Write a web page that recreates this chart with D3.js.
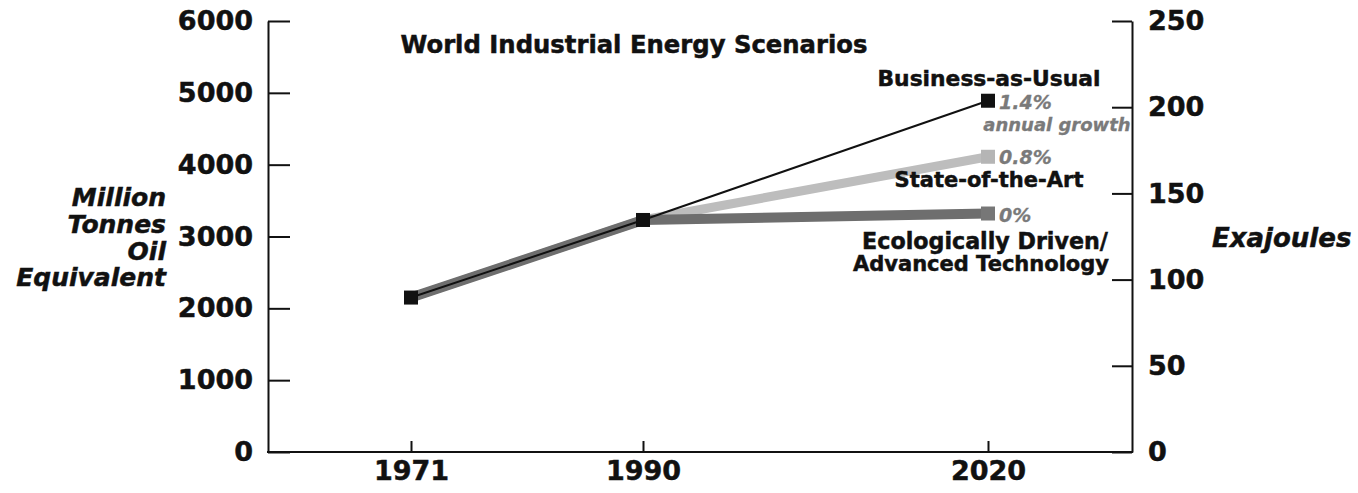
<!DOCTYPE html>
<html>
<head>
<meta charset="utf-8">
<script src="https://cdn.jsdelivr.net/npm/d3@7"></script>
<style>
  body { margin: 0; background: #fff; }
  svg text { font-family: "DejaVu Sans", sans-serif; font-weight: bold; fill: #111; stroke: #111; stroke-width: 0.5; }
  .axis path, .axis line { stroke: #111; stroke-width: 2; }
  .axis text { font-size: 27px; }
  .note { font-style: italic; fill: #7a7a7a; stroke: #7a7a7a; stroke-width: 0.3; }
</style>
</head>
<body>
<div id="chart"></div>
<script>
// chart data
var years = [1971, 1990, 2020];
var businessAsUsual = [2150, 3230, 4890];
var stateOfTheArt = [2150, 3230, 4110];
var ecoDriven = [2150, 3230, 3320];
var leftTicks = [0, 1000, 2000, 3000, 4000, 5000, 6000];
var rightTicks = [0, 50, 100, 150, 200, 250];

var width = 1358, height = 493;
var plot = {left: 268, right: 1132, top: 21, bottom: 452};

var svg = d3.select("#chart").append("svg")
    .attr("width", width)
    .attr("height", height);

// years are not evenly spaced on the original, so use a piecewise scale
var x = d3.scaleLinear()
    .domain(years)
    .range([411, 643, 988]);

var y = d3.scaleLinear()
    .domain([0, 6000])
    .range([plot.bottom, plot.top]);

var yRight = d3.scaleLinear()
    .domain([0, 250])
    .range([plot.bottom, plot.top]);

// left axis, ticks pointing into the plot
svg.append("g")
    .attr("class", "axis")
    .attr("transform", "translate(" + plot.left + ",0)")
    .call(d3.axisLeft(y).tickValues(leftTicks).tickSizeInner(-22).tickSizeOuter(0).tickPadding(15).tickFormat(d3.format("d")));

// right axis
svg.append("g")
    .attr("class", "axis")
    .attr("transform", "translate(" + plot.right + ",0)")
    .call(d3.axisRight(yRight).tickValues(rightTicks).tickSizeInner(-20).tickSizeOuter(0).tickPadding(16));

// bottom axis
var xAxis = svg.append("g")
    .attr("class", "axis")
    .attr("transform", "translate(0," + plot.bottom + ")")
    .call(d3.axisBottom(x).tickValues(years).tickSizeInner(-11).tickSizeOuter(0).tickPadding(9).tickFormat(d3.format("d")));
xAxis.select(".domain").remove();
xAxis.append("line")
    .attr("x1", plot.left - 1).attr("x2", plot.right + 1)
    .attr("stroke", "#111").attr("stroke-width", 2);

var line = d3.line()
    .x(function(d, i) { return x(years[i]); })
    .y(function(d) { return y(d); });

// scenario lines, light one underneath
svg.append("path")
    .attr("d", line(stateOfTheArt))
    .attr("fill", "none")
    .attr("stroke", "#bdbdbd")
    .attr("stroke-width", 9);

svg.append("path")
    .attr("d", line(ecoDriven))
    .attr("fill", "none")
    .attr("stroke", "#6e6e6e")
    .attr("stroke-width", 10);

svg.append("path")
    .attr("d", line(businessAsUsual))
    .attr("fill", "none")
    .attr("stroke", "#111")
    .attr("stroke-width", 2);

// markers
var s = 14;
var markers = [
  {year: 2020, value: stateOfTheArt[2], color: "#b5b5b5"},
  {year: 2020, value: ecoDriven[2], color: "#777"},
  {year: 2020, value: businessAsUsual[2], color: "#111"},
  {year: 1971, value: businessAsUsual[0], color: "#111"},
  {year: 1990, value: businessAsUsual[1], color: "#111"}
];
svg.selectAll("rect.marker")
    .data(markers)
  .enter().append("rect")
    .attr("class", "marker")
    .attr("x", function(d) { return x(d.year) - s / 2; })
    .attr("y", function(d) { return y(d.value) - s / 2; })
    .attr("width", s)
    .attr("height", s)
    .attr("fill", function(d) { return d.color; });

// title
svg.append("text")
    .attr("x", 634).attr("y", 53)
    .attr("text-anchor", "middle")
    .attr("font-size", 24.3)
    .text("World Industrial Energy Scenarios");

// axis titles
var leftTitle = ["Million", "Tonnes", "Oil", "Equivalent"];
svg.append("text")
    .attr("text-anchor", "end")
    .attr("font-size", 25)
    .attr("font-style", "italic")
    .selectAll("tspan")
    .data(leftTitle)
  .enter().append("tspan")
    .attr("x", 166)
    .attr("y", function(d, i) { return 206 + i * 26.8; })
    .text(function(d) { return d; });

svg.append("text")
    .attr("x", 1212).attr("y", 247)
    .attr("font-size", 26)
    .attr("font-style", "italic")
    .text("Exajoules");

// scenario labels
function label(txt, xx, yy, size, cls, anchor) {
  svg.append("text")
      .attr("x", xx).attr("y", yy)
      .attr("font-size", size)
      .attr("class", cls || null)
      .attr("text-anchor", anchor || "middle")
      .text(txt);
}
label("Business-as-Usual", 989, 86, 21.8);
label("1.4%", 999, 109, 19, "note", "start");
label("annual growth", 1057, 131, 18, "note");
label("0.8%", 999, 164, 19, "note", "start");
label("State-of-the-Art", 989, 187, 21);
label("0%", 999, 222, 19, "note", "start");
label("Ecologically Driven/", 985, 249, 22.2);
label("Advanced Technology", 981, 271, 21);
</script>
</body>
</html>
